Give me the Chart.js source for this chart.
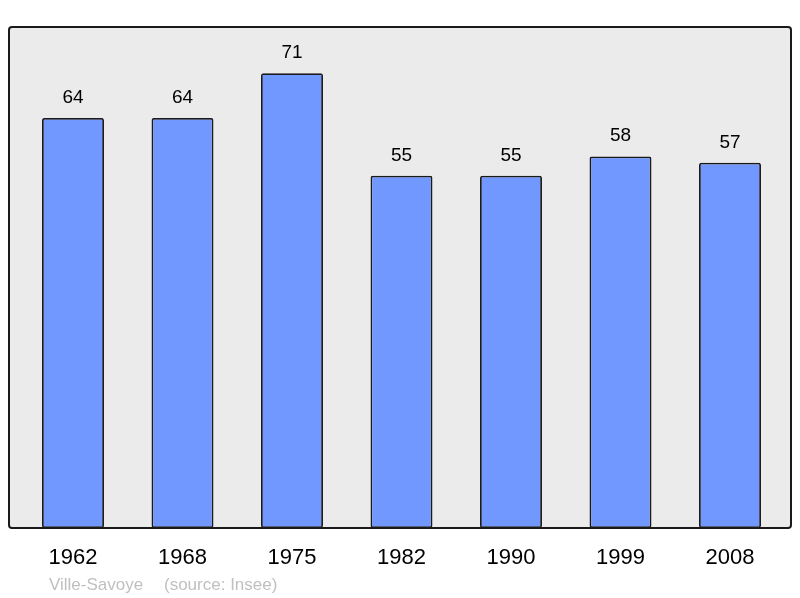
<!DOCTYPE html>
<html>
<head>
<meta charset="utf-8">
<script src="https://cdn.jsdelivr.net/npm/chart.js@4/dist/chart.umd.min.js"></script>
<style>
html,body{margin:0;padding:0;background:#fff;}
#wrap{width:800px;height:598px;}
</style>
</head>
<body>
<div id="wrap"><canvas id="c" width="800" height="598"></canvas></div>
<script>
const years = ["1962", "1968", "1975", "1982", "1990", "1999", "2008"];
const population = [64, 64, 71, 55, 55, 58, 57];
const footerPlace = "Ville-Savoye";
const footerSource = "(source: Insee)";

const FONT = '"Liberation Sans", Arial, sans-serif';

const boxPlugin = {
  id: 'box',
  beforeDatasetsDraw(chart) {
    const {ctx, chartArea} = chart;
    ctx.save();
    ctx.beginPath();
    ctx.roundRect(9, chartArea.top, 782, chartArea.bottom - chartArea.top, 3);
    ctx.fillStyle = '#ebebeb';
    ctx.fill();
    ctx.restore();
  },
  afterDatasetsDraw(chart) {
    const {ctx, chartArea} = chart;
    ctx.save();
    ctx.beginPath();
    ctx.roundRect(9, chartArea.top, 782, chartArea.bottom - chartArea.top, 3);
    ctx.lineWidth = 2;
    ctx.strokeStyle = '#1a1a1a';
    ctx.stroke();
    // value labels
    const meta = chart.getDatasetMeta(0);
    ctx.fillStyle = '#000';
    ctx.font = '19px ' + FONT;
    ctx.textAlign = 'center';
    ctx.textBaseline = 'alphabetic';
    meta.data.forEach((bar, i) => {
      ctx.fillText(String(population[i]), bar.x, bar.y - 15);
    });
    // footer
    ctx.fillStyle = '#c0c0c0';
    ctx.font = '17px ' + FONT;
    ctx.textAlign = 'left';
    ctx.fillText(footerPlace, 49, 590);
    ctx.fillText(footerSource, 164, 590);
    ctx.restore();
  }
};

new Chart(document.getElementById('c'), {
  type: 'bar',
  data: {
    labels: years,
    datasets: [{
      data: population,
      backgroundColor: '#7098ff',
      borderColor: '#1a1a1a',
      borderWidth: 1.8,
      borderRadius: 2,
      borderSkipped: false,
      categoryPercentage: 1,
      barPercentage: 0.566
    }]
  },
  options: {
    responsive: false,
    animation: false,
    devicePixelRatio: 1,
    layout: { padding: { left: 18.25, right: 15.25, top: 27, bottom: 9.6 } },
    plugins: { legend: { display: false }, tooltip: { enabled: false } },
    scales: {
      x: {
        grid: { display: false, drawTicks: false },
        border: { display: false },
        ticks: { color: '#000', font: { size: 22, family: FONT }, padding: 17, maxRotation: 0 }
      },
      y: {
        display: false,
        min: 0,
        max: 78.2
      }
    }
  },
  plugins: [boxPlugin]
});
</script>
</body>
</html>
